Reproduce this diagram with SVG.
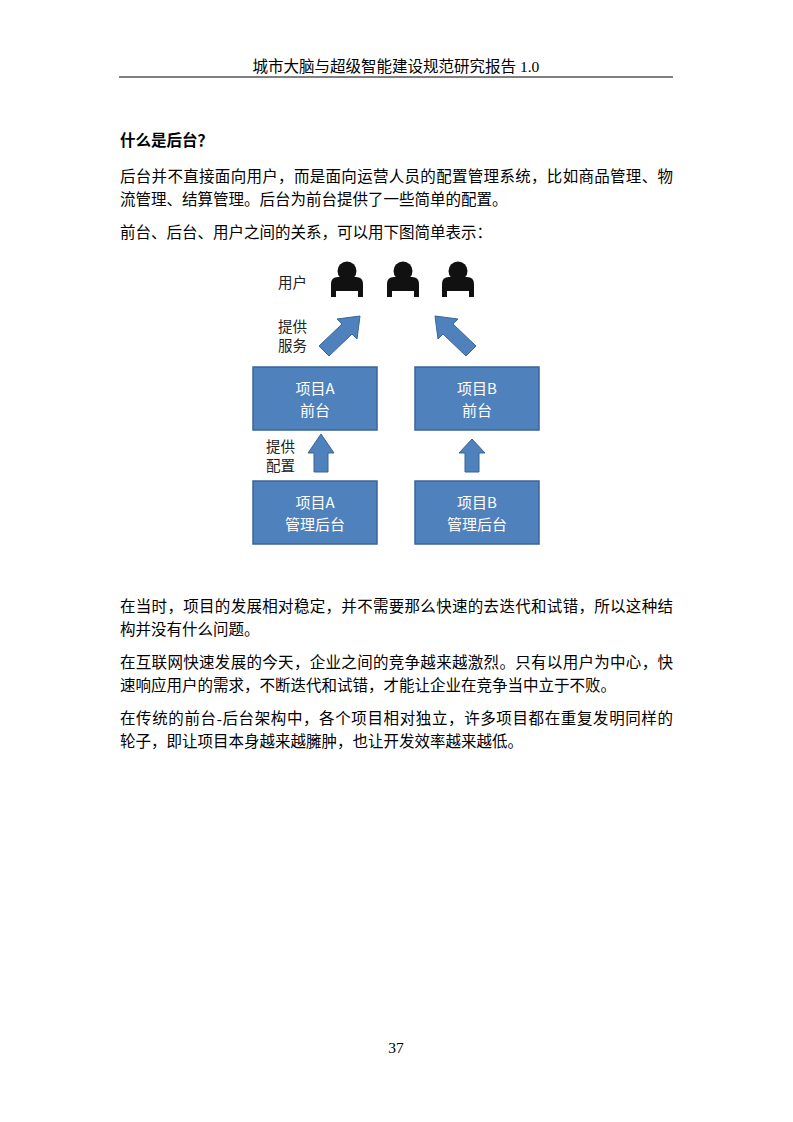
<svg xmlns="http://www.w3.org/2000/svg" width="793" height="1122" viewBox="0 0 793 1122">
<style>
.s{font-family:"Liberation Serif","Noto Sans CJK SC",serif;font-size:15.5px;fill:#000}
.d{font-family:"Noto Sans CJK SC",sans-serif;font-size:14.5px;fill:#222}
.b{fill:#4f81bd;stroke:#3a6595;stroke-width:1.5}
.bt{font-family:"Noto Sans CJK SC",sans-serif;font-size:15px;fill:#fff;text-anchor:middle}
.ar{fill:#4f81bd;stroke:#3a6595;stroke-width:1}
</style>
<rect width="793" height="1122" fill="#fff"/>
<text x="396" y="72" text-anchor="middle" class="s" font-size="14">城市大脑与超级智能建设规范研究报告 1.0</text>
<line x1="119" y1="77" x2="673" y2="77" stroke="#000" stroke-width="1"/>
<text x="120" y="146" class="s" font-weight="bold">什么是后台？</text>
<text x="120" y="182" class="s" textLength="553" lengthAdjust="spacing">后台并不直接面向用户，而是面向运营人员的配置管理系统，比如商品管理、物</text>
<text x="120" y="205" class="s">流管理、结算管理。后台为前台提供了一些简单的配置。</text>
<text x="120" y="238" class="s">前台、后台、用户之间的关系，可以用下图简单表示：</text>
<g id="users">
<text x="278" y="288" class="d">用户</text>
<g fill="#111">
<circle cx="347" cy="271" r="9.5"/><path d="M331 297 v-13 q0-7 7-7 h18 q7 0 7 7 v13 h-5 v-6 h-22 v6z"/>
<circle cx="403" cy="271" r="9.5"/><path d="M387 297 v-13 q0-7 7-7 h18 q7 0 7 7 v13 h-5 v-6 h-22 v6z"/>
<circle cx="458" cy="271" r="9.5"/><path d="M442 297 v-13 q0-7 7-7 h18 q7 0 7 7 v13 h-5 v-6 h-22 v6z"/>
</g>
</g>
<g id="connectors">
<polygon class="ar" points="319,346 342,324 337,319 360,316 357,339 352,334 329,356"/>
<polygon class="ar" points="476,346 453,324 458,319 435,316 438,339 443,334 466,356"/>
<polygon class="ar" points="314,472 328,472 328,453 334,453 321,434 308,453 314,453"/>
<polygon class="ar" points="465,472 479,472 479,453 485,453 472,439 459,453 465,453"/>
<text x="278" y="332" class="d">提供</text><text x="278" y="351" class="d">服务</text>
<text x="266" y="452" class="d">提供</text><text x="266" y="471" class="d">配置</text>
</g>
<g id="aFront"><rect class="b" x="253" y="367" width="124" height="63"/><text x="315" y="394" class="bt">项目A</text><text x="315" y="416" class="bt">前台</text></g>
<g id="bFront"><rect class="b" x="415" y="367" width="124" height="63"/><text x="477" y="394" class="bt">项目B</text><text x="477" y="416" class="bt">前台</text></g>
<g id="aBack"><rect class="b" x="253" y="481" width="124" height="63"/><text x="315" y="508" class="bt">项目A</text><text x="315" y="530" class="bt">管理后台</text></g>
<g id="bBack"><rect class="b" x="415" y="481" width="124" height="63"/><text x="477" y="508" class="bt">项目B</text><text x="477" y="530" class="bt">管理后台</text></g>
<text x="120" y="612" class="s" textLength="553" lengthAdjust="spacing">在当时，项目的发展相对稳定，并不需要那么快速的去迭代和试错，所以这种结</text>
<text x="120" y="635" class="s">构并没有什么问题。</text>
<text x="120" y="668" class="s" textLength="553" lengthAdjust="spacing">在互联网快速发展的今天，企业之间的竞争越来越激烈。只有以用户为中心，快</text>
<text x="120" y="691" class="s">速响应用户的需求，不断迭代和试错，才能让企业在竞争当中立于不败。</text>
<text x="120" y="724" class="s" textLength="553" lengthAdjust="spacing">在传统的前台-后台架构中，各个项目相对独立，许多项目都在重复发明同样的</text>
<text x="120" y="747" class="s">轮子，即让项目本身越来越臃肿，也让开发效率越来越低。</text>
<text x="396" y="1053" text-anchor="middle" class="s" font-size="12">37</text>
</svg>
